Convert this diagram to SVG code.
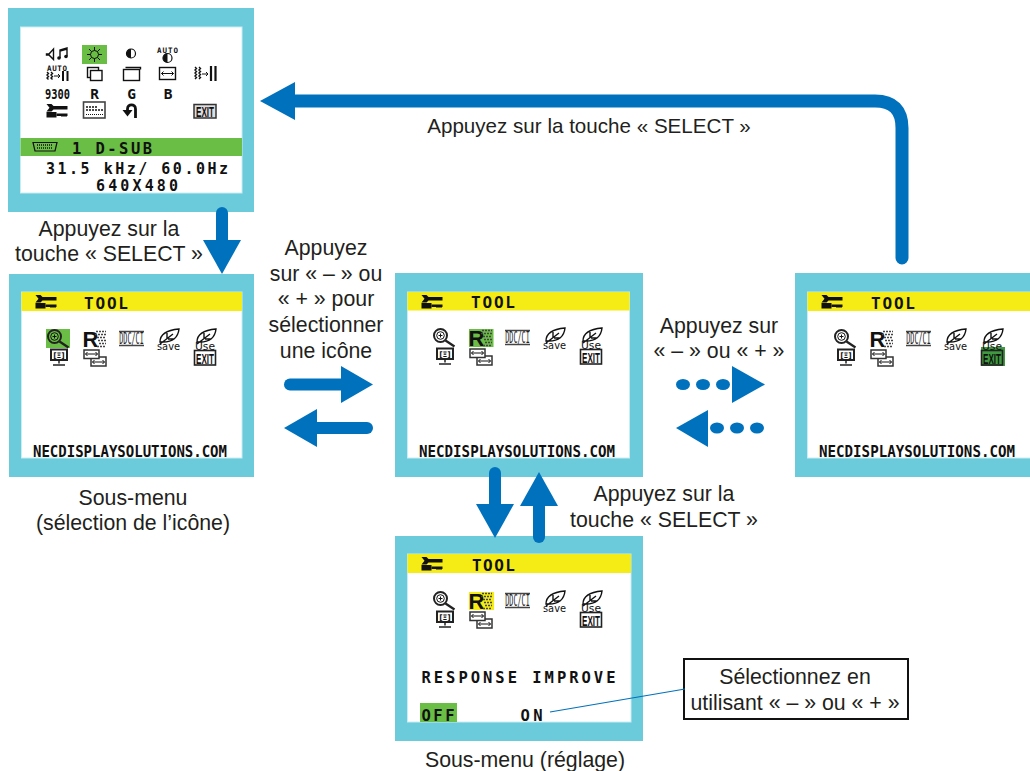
<svg xmlns="http://www.w3.org/2000/svg" width="1030" height="771" viewBox="0 0 1030 771">
<style>
.frame{fill:#6bcbdb}
.screen{fill:#fff;stroke:#c9edf2;stroke-width:1}
.yellow{fill:#f4ec14}
.green{fill:#6abd45}
.osd{font-family:"DejaVu Sans Mono",monospace;font-weight:bold;fill:#111}
.lbl{font-family:"Liberation Sans",Arial,sans-serif;font-size:21.3px;fill:#231f20;text-anchor:middle}
.shaft{fill:none;stroke:#0071bc;stroke-width:12;stroke-linecap:round}
.head{fill:#0071bc}
.ic{fill:none;stroke:#111;stroke-width:1.400}
.thin{fill:none;stroke:#111;stroke-width:1}
.sol{fill:#111}
.tiny{font-family:"DejaVu Sans",sans-serif;fill:#111}
.ex{font-family:"Liberation Sans",sans-serif;font-weight:bold;fill:#111;text-anchor:middle}
</style>
<defs>
<g id="wrench">
<path class="sol" d="M0 1h5l2 2h14v3.500h-14l-2 2h-5l3-3.800z"/>
<path class="sol" d="M0 9h10v5.500h-10z"/>
<path class="sol" d="M10 10.500h11v2.500h-1v1h-1v-1h-1v1h-1v-1h-1v1h-1v-1h-5z"/>
</g>
<path id="dbl" d="M-6 0h12M-4 -2l-2 2l2 2M4 -2l2 2l-2 2" class="thin"/>
<g id="tool-icons">
<circle cx="54.500" cy="336.500" r="6.500" fill="none" stroke="#222" stroke-width="2"/><circle class="thin" cx="54.500" cy="336.500" r="3.800"/>
<path d="M59.500 341.500l9 6" fill="none" stroke="#222" stroke-width="2.200"/><path d="M52.500 336.500h4M54.500 334.500v4" class="thin"/>
<rect x="51" y="349.500" width="16" height="10.500" fill="#fff" stroke="#222" stroke-width="2"/>
<text class="tiny" font-weight="bold" x="59" y="358" font-size="7.500" text-anchor="middle">[Ξ]</text>
<path d="M59 360.500v3" class="ic"/><path d="M53 365h12" class="ic"/>
<text x="82.500" y="346.500" font-family="'Liberation Sans',sans-serif" font-weight="bold" font-size="22" fill="#111">R</text>
<g stroke="#444" stroke-width="1.400" stroke-dasharray="2 1"><path d="M96 331.500h10M95 334.500h11M97 337.500h9M98 340.500h8M99 343.500h7M97 346.500h9"/></g>
<rect x="91" y="357" width="15" height="9" fill="#fff" stroke="#333" stroke-width="1.500"/>
<rect x="84" y="350" width="15" height="8.500" fill="#fff" stroke="#333" stroke-width="1.500"/>
<use href="#dbl" x="91.500" y="354"/><use href="#dbl" x="98.500" y="362"/>
<path d="M119 331.500h25M119 345.500h25" stroke="#444" stroke-width="1.400"/>
<text x="131.500" y="344" text-anchor="middle" font-family="'DejaVu Sans Mono',monospace" font-size="15" textLength="24.500" lengthAdjust="spacingAndGlyphs" fill="#222">DDC/CI</text>
<path class="ic" d="M160 342c0-8 8-12 19-13c-1 9-7 13-16 13zM160 344l13-10M167 333v6M168 339h6"/>
<text x="168.500" y="349.500" text-anchor="middle" class="tiny" font-size="10" textLength="23" lengthAdjust="spacingAndGlyphs">save</text>
<path class="ic" d="M197 342c0-8 8-12 19-13c-1 9-7 13-16 13zM197 344l13-10M204 333v6M205 339h6"/>
<text x="205" y="349.500" text-anchor="middle" class="tiny" font-size="10" textLength="20" lengthAdjust="spacingAndGlyphs">Use</text>
<rect x="194.500" y="350.500" width="21" height="14.500" fill="none" stroke="#222" stroke-width="1.600"/>
<text x="205" y="363.500" class="ex" font-size="15" textLength="18" lengthAdjust="spacingAndGlyphs">EXIT</text>
</g>
<g id="half"><circle r="4.500" fill="#fff" stroke="#111" stroke-width="1.200"/><path class="sol" d="M0 -4.500a4.500 4.500 0 0 0 0 9z"/></g>
</defs>

<g id="main-menu">
<rect class="frame" x="8" y="8" width="246" height="204"/>
<rect class="screen" x="20.500" y="27" width="221.500" height="166"/>
<rect class="green" x="82" y="45" width="25" height="19"/>
<path class="ic" d="M46.500 54h2.500l4.500-5v10.500l-4.500-4.500h-2.500z" stroke-width="1.200"/><path class="ic" d="M60 58v-8l7-2v8M60 51l7-2"/><circle class="sol" cx="59" cy="58" r="1.800"/><circle class="sol" cx="66" cy="56.500" r="1.800"/>
<circle class="thin" cx="94.500" cy="54.500" r="4"/><path class="thin" d="M94.500 47v3.500M94.500 58.500v3.500M87 54.500h3.500M98.500 54.500h3.500M89 49l2.500 2.500M97.500 57.500l2.500 2.500M100 49l-2.500 2.500M91.500 57.500l-2.500 2.500"/>
<use href="#half" x="131" y="53.500"/>
<text class="osd" font-weight="normal" x="157" y="52.500" font-size="7.500" textLength="21">AUTO</text>
<use href="#half" x="167.500" y="58"/>
<text class="osd" font-weight="normal" x="47" y="70.500" font-size="7.500" textLength="20">AUTO</text>
<path d="M47 72l1.500 1.500l-1.500 1.500l1.500 1.500l-1.500 1.500l1.500 1.500M51 72l1.500 1.500l-1.500 1.500l1.500 1.500l-1.500 1.500l1.500 1.500" class="ic"/><path class="thin" d="M54 76h6M58 74l2 2l-2 2"/><path d="M63 71v10M67.500 71v10" fill="none" stroke="#111" stroke-width="2"/>
<rect class="ic" x="87.500" y="67.500" width="11" height="10"/><rect class="ic" x="90.500" y="70.500" width="11.500" height="10" style="fill:#fff"/>
<path class="ic" d="M125.500 67.500h15v2"/><rect class="ic" x="123.500" y="69.500" width="16" height="11"/>
<rect class="ic" x="159.500" y="67.500" width="16" height="12"/><use href="#dbl" x="167.500" y="73.500"/>
<path d="M195 67l1.500 1.500l-1.500 1.500l1.500 1.500l-1.500 1.500l1.500 1.500l-1.500 1.500l1.500 1.500l-1.500 1.500M199 67l1.500 1.500l-1.500 1.500l1.500 1.500l-1.500 1.500l1.500 1.500l-1.500 1.500l1.500 1.500l-1.500 1.500" class="ic" stroke-width="1.200"/><path class="thin" d="M202 74h6M206 72l2 2l-2 2"/><path d="M211 66v15M215.500 66v15" fill="none" stroke="#111" stroke-width="2.200"/>
<text class="osd" x="45" y="99" font-size="14.500" textLength="25" lengthAdjust="spacingAndGlyphs">9300</text>
<text class="osd" x="94.500" y="99" text-anchor="middle" font-size="14.500">R</text>
<text class="osd" x="131.500" y="99" text-anchor="middle" font-size="14.500">G</text>
<text class="osd" x="168" y="99" text-anchor="middle" font-size="14.500">B</text>
<use href="#wrench" x="46.500" y="103"/>
<rect x="83.500" y="102" width="21.500" height="16" fill="#fff" stroke="#444" stroke-width="1.600"/><path d="M86 107h11M86 110h17" stroke="#111" stroke-width="1.600" stroke-dasharray="2 1"/><path d="M86 114.500h17" stroke="#111" stroke-width="1" stroke-dasharray="1 1"/>
<path d="M135.500 118v-9c0-5.500-8-5.500-8 0v2" fill="none" stroke="#111" stroke-width="2.800"/><path class="sol" d="M122.500 110h10l-5 6.500z"/>
<rect x="194" y="104.500" width="22" height="13.500" fill="#ddd" stroke="#333" stroke-width="1.500"/>
<text x="205" y="116.500" class="ex" font-size="15" textLength="18" lengthAdjust="spacingAndGlyphs">EXIT</text>
<rect class="green" x="20.500" y="138" width="221.500" height="18"/>
<path d="M33 142.500h24l-2 8.500h-20z" fill="none" stroke="#111" stroke-width="1.200"/><path d="M37 145h15M37 148h15" stroke="#111" stroke-width="1.500" stroke-dasharray="1 1"/>
<text class="osd" x="72" y="154" font-size="15.500" textLength="80">1 D-SUB</text>
<text class="osd" x="46" y="173.500" font-size="15" textLength="182">31.5 kHz/ 60.0Hz</text>
<text class="osd" x="96" y="191" font-size="15" textLength="82">640X480</text>
</g>

<g id="sub-select">
<rect class="frame" x="9" y="274" width="245" height="203"/>
<rect class="screen" x="21.500" y="292" width="220.500" height="166"/>
<rect class="yellow" x="21.500" y="292" width="220.500" height="19"/>
<use href="#wrench" x="35.500" y="294"/>
<text class="osd" x="84" y="309" font-size="16" textLength="44">TOOL</text>
<rect class="green" x="46" y="329" width="24" height="19"/>
<use href="#tool-icons"/>
<text class="osd" x="33" y="456.500" font-size="16" textLength="194" lengthAdjust="spacingAndGlyphs">NECDISPLAYSOLUTIONS.COM</text>
</g>

<g id="sub-center">
<rect class="frame" x="395" y="273" width="248" height="204"/>
<rect class="screen" x="407.500" y="292" width="222" height="166"/>
<rect class="yellow" x="407.500" y="292" width="222" height="18.500"/>
<use href="#wrench" x="421.500" y="294"/>
<text class="osd" x="471" y="308" font-size="16" textLength="44">TOOL</text>
<rect class="green" x="469" y="329" width="24.500" height="18"/>
<use href="#tool-icons" transform="translate(386 -1)"/>
<text class="osd" x="419" y="456.500" font-size="16" textLength="196" lengthAdjust="spacingAndGlyphs">NECDISPLAYSOLUTIONS.COM</text>
</g>

<g id="sub-exit">
<rect class="frame" x="795" y="273" width="235" height="204"/>
<rect class="screen" x="807.500" y="292" width="223" height="166"/>
<rect class="yellow" x="807.500" y="292" width="222.500" height="19"/>
<use href="#wrench" x="821.500" y="294"/>
<text class="osd" x="871" y="308.500" font-size="16" textLength="44">TOOL</text>
<rect x="981" y="347" width="24" height="19" fill="#3f9a3f"/>
<use href="#tool-icons" transform="translate(787 0)"/>
<text class="osd" x="819" y="456.500" font-size="16" textLength="196" lengthAdjust="spacingAndGlyphs">NECDISPLAYSOLUTIONS.COM</text>
</g>

<g id="sub-adjust">
<rect class="frame" x="395" y="536" width="248" height="205"/>
<rect class="screen" x="407.500" y="554" width="223.500" height="168"/>
<rect class="yellow" x="407.500" y="554" width="223.500" height="19"/>
<use href="#wrench" x="421.500" y="556"/>
<text class="osd" x="472" y="571" font-size="16" textLength="43">TOOL</text>
<rect class="yellow" x="469" y="592" width="25" height="18"/>
<use href="#tool-icons" transform="translate(386 262)"/>
<text class="osd" x="421.500" y="683" font-size="15.500" textLength="194">RESPONSE IMPROVE</text>
<rect class="green" x="420" y="703" width="37" height="19"/>
<text class="osd" x="421.500" y="720.500" font-size="15.500" textLength="33">OFF</text>
<text class="osd" x="520.500" y="720.500" font-size="15.500" textLength="22">ON</text>
</g>

<g id="callout">
<rect x="684" y="659" width="224" height="60" fill="#fff" stroke="#111" stroke-width="2"/>
<text class="lbl" x="795" y="684">Sélectionnez en</text>
<text class="lbl" x="795" y="710">utilisant « – » ou « + »</text>
</g>

<g id="connectors">
<path class="shaft" style="stroke-width:13" d="M902 258V128Q902 101 875 101H290"/>
<path class="head" d="M260 101L295 82V120z"/>
<path class="shaft" d="M222 213V245"/><path class="head" d="M222 274L203 240H241z"/>
<path class="shaft" d="M290 384.500H345"/><path class="head" d="M373 384.500L341 366V403z"/>
<path class="shaft" d="M367 428H312"/><path class="head" d="M284 428L317 409V447z"/>
<g class="head"><ellipse cx="683" cy="384.500" rx="7" ry="5.500"/><ellipse cx="703" cy="384.500" rx="7" ry="5.500"/><ellipse cx="723" cy="384.500" rx="7" ry="5.500"/>
<ellipse cx="717" cy="428" rx="7" ry="5.500"/><ellipse cx="737" cy="428" rx="7" ry="5.500"/><ellipse cx="757" cy="428" rx="7" ry="5.500"/></g>
<path class="head" d="M765 384.500L732 366V403z"/><path class="head" d="M676 428L708 410V447z"/>
<path class="shaft" d="M495 473V510"/><path class="head" d="M495 538L476 504H514z"/>
<path class="shaft" d="M539 537V500"/><path class="head" d="M539 472L520 506H558z"/>
<path d="M550 712L685 689" fill="none" stroke="#0071bc" stroke-width="1.200"/>
</g>

<g id="labels">
<text class="lbl" style="font-size:20.600px" x="589" y="133">Appuyez sur la touche « SELECT »</text>
<text class="lbl" x="109" y="236">Appuyez sur la</text>
<text class="lbl" x="109" y="261">touche « SELECT »</text>
<text class="lbl" x="326" y="255">Appuyez</text>
<text class="lbl" x="326" y="281">sur « – » ou</text>
<text class="lbl" x="326" y="306">« + » pour</text>
<text class="lbl" x="326" y="332">sélectionner</text>
<text class="lbl" x="326" y="358">une icône</text>
<text class="lbl" x="719" y="333">Appuyez sur</text>
<text class="lbl" x="719" y="358">« – » ou « + »</text>
<text class="lbl" x="664" y="501">Appuyez sur la</text>
<text class="lbl" x="664" y="527">touche « SELECT »</text>
<text class="lbl" x="133" y="505">Sous-menu</text>
<text class="lbl" x="133" y="530">(sélection de l’icône)</text>
<text class="lbl" x="525" y="767">Sous-menu (réglage)</text>
</g>
</svg>
